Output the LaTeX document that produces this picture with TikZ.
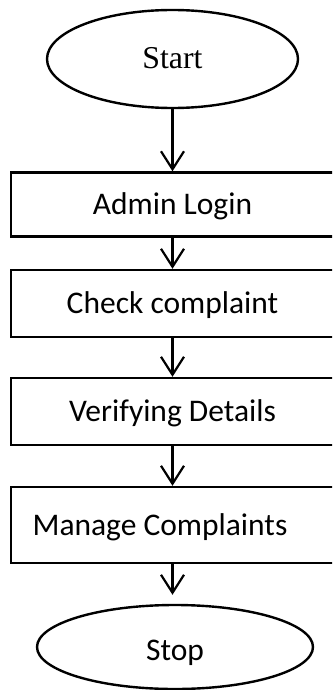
\documentclass[tikz,border=0pt]{standalone}
\usepackage{fontspec}
\setmainfont{Liberation Serif}
\newfontfamily\calib{Carlito}
\usetikzlibrary{shapes.geometric,arrows.meta}
\tikzset{
  flowline/.style={line width=2.4pt, draw=black},
  boxnode/.style={flowline, rectangle, minimum width=323.6pt, inner sep=0pt,
    font=\calib\fontsize{31.5}{36}\selectfont, text height=20pt, text depth=0pt},
  termnode/.style={flowline, ellipse, inner sep=0pt, text height=20pt, text depth=0pt},
  arr/.style={line width=2.2pt, -{Straight Barb[length=18pt,width=23pt]}},
}
\begin{document}
\begin{tikzpicture}[x=1pt,y=-1pt]
\useasboundingbox (0,0) rectangle (332,690);
\clip (0,0) rectangle (332,690);
\fill[white] (0,0) rectangle (332,690);
\node[termnode, minimum width=251pt, minimum height=98pt,
  font=\rmfamily\fontsize{31.8}{36}\selectfont] (start) at (172.5,59) {Start};
\node[boxnode, minimum height=64pt] (admin) at (172.5,204.5) {Admin Login};
\node[boxnode, minimum height=67pt] (check) at (172.5,303.5) {Check complaint};
\node[boxnode, minimum height=67pt] (verify) at (172.5,411.5) {Verifying Details};
\node[boxnode, minimum height=76pt] (manage) at (172.5,525) {\hspace*{-25pt}Manage Complaints};
\node[termnode, minimum width=276pt, minimum height=84pt,
  font=\calib\fontsize{31.5}{36}\selectfont] (stop) at (175,647) {\raisebox{-3.5pt}{Stop}};
\draw[arr] (start.south) -- (admin.north);
\draw[arr] (admin.south) -- (check.north);
\draw[arr] (check.south) -- (verify.north);
\draw[arr] (verify.south) -- (manage.north);
\draw[arr, shorten >=9pt] (manage.south) -- (manage.south |- stop.north);
\end{tikzpicture}
\end{document}
